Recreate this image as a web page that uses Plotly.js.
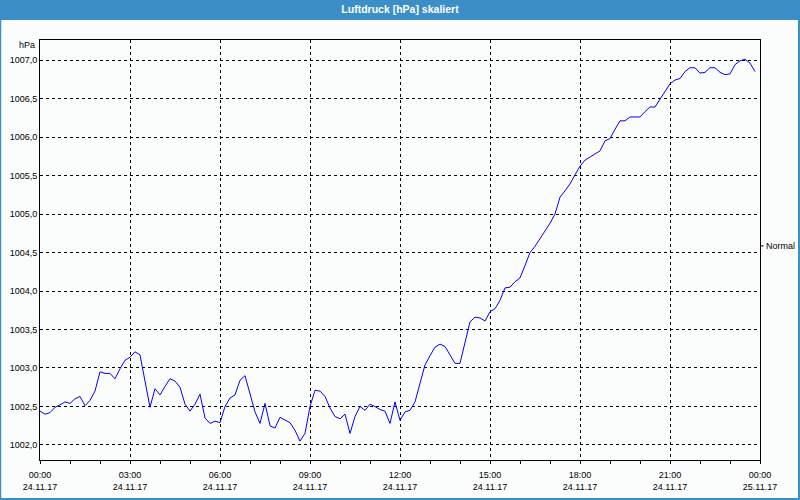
<!DOCTYPE html>
<html>
<head>
<meta charset="utf-8">
<script src="https://cdn.plot.ly/plotly-3.0.1.min.js"></script>
<style>
html,body{margin:0;padding:0;background:#fbfdfc;}
#chart{width:800px;height:500px;}
</style>
</head>
<body>
<div id="chart"></div>
<script>
// ---- data ----
const day = "2017-11-24";
const times = [
"00:00","00:10","00:20","00:30","00:40","00:50",
"01:00","01:10","01:20","01:30","01:40","01:50",
"02:00","02:10","02:20","02:30","02:40","02:50",
"03:00","03:10","03:20","03:30","03:40","03:50",
"04:00","04:10","04:20","04:30","04:40","04:50",
"05:00","05:10","05:20","05:30","05:40","05:50",
"06:00","06:10","06:20","06:30","06:40","06:50",
"07:00","07:10","07:20","07:30","07:40","07:50",
"08:00","08:10","08:20","08:30","08:40","08:50",
"09:00","09:10","09:20","09:30","09:40","09:50",
"10:00","10:10","10:20","10:30","10:40","10:50",
"11:00","11:10","11:20","11:30","11:40","11:50",
"12:00","12:10","12:20","12:30","12:40","12:50",
"13:00","13:10","13:20","13:30","13:40","13:50",
"14:00","14:10","14:20","14:30","14:40","14:50",
"15:00","15:10","15:20","15:30","15:40","15:50",
"16:00","16:10","16:20","16:30","16:40","16:50",
"17:00","17:10","17:20","17:30","17:40","17:50",
"18:00","18:10","18:20","18:30","18:40","18:50",
"19:00","19:10","19:20","19:30","19:40","19:50",
"20:00","20:10","20:20","20:30","20:40","20:50",
"21:00","21:10","21:20","21:30","21:40","21:50",
"22:00","22:10","22:20","22:30","22:40","22:50",
"23:00","23:10","23:20","23:30","23:40","23:50"
];
const pressure = [
1002.44,1002.40,1002.42,1002.49,1002.52,1002.56,
1002.54,1002.60,1002.63,1002.51,1002.58,1002.70,
1002.95,1002.93,1002.93,1002.86,1002.99,1003.10,
1003.14,1003.21,1003.17,1002.84,1002.49,1002.73,
1002.65,1002.76,1002.86,1002.83,1002.75,1002.53,
1002.44,1002.53,1002.66,1002.35,1002.28,1002.31,
1002.29,1002.50,1002.61,1002.65,1002.84,1002.90,
1002.67,1002.43,1002.28,1002.54,1002.25,1002.22,
1002.36,1002.33,1002.29,1002.19,1002.05,1002.15,
1002.50,1002.71,1002.70,1002.63,1002.48,1002.37,
1002.34,1002.40,1002.15,1002.37,1002.50,1002.45,
1002.53,1002.50,1002.46,1002.44,1002.28,1002.56,
1002.32,1002.43,1002.45,1002.56,1002.80,1003.04,
1003.16,1003.27,1003.31,1003.28,1003.17,1003.06,
1003.06,1003.33,1003.60,1003.66,1003.65,1003.61,
1003.73,1003.77,1003.88,1004.04,1004.05,1004.12,
1004.17,1004.33,1004.50,1004.58,1004.68,1004.78,
1004.88,1005.00,1005.22,1005.30,1005.39,1005.51,
1005.62,1005.70,1005.74,1005.77,1005.82,1005.95,
1005.98,1006.10,1006.21,1006.21,1006.26,1006.26,
1006.26,1006.33,1006.39,1006.39,1006.49,1006.59,
1006.69,1006.74,1006.76,1006.85,1006.90,1006.90,
1006.83,1006.84,1006.90,1006.90,1006.84,1006.81,
1006.82,1006.94,1006.99,1007.01,1006.96,1006.85
];
const normalLevel = 1004.585;
const chartTitle = "Luftdruck [hPa] skaliert";
const unitLabel = "hPa";
const normalLabel = "Normal";

// ---- chart ----
const x = times.map(t => day + " " + t);
const FONT = "Liberation Sans, Arial, sans-serif";
const BLUE = "#3c8fc6";
// paper-coordinate helpers (plot area: x 40..760, y 40..460)
const px = v => (v - 40) / 720;
const py = v => (460 - v) / 420;

const trace = {
  x: x, y: pressure, type: "scatter", mode: "lines",
  line: {color: "#0000ff", width: 1}, hoverinfo: "x+y"
};

const layout = {
  width: 800, height: 500,
  margin: {l: 40, r: 40, t: 40, b: 40},
  paper_bgcolor: "#fbfdfc", plot_bgcolor: "#fbfdfc",
  separators: ",.",
  showlegend: false,
  font: {family: FONT, size: 9, color: "#000"},
  title: {
    text: "<b>" + chartTitle + "</b>",
    font: {family: FONT, size: 10.5, color: "#ffffff"},
    x: 0.5, xref: "container", xanchor: "center",
    y: 1 - 9/500, yref: "container", yanchor: "middle"
  },
  xaxis: {
    type: "date",
    range: ["2017-11-24 00:00", "2017-11-25 00:00"],
    tick0: "2017-11-24 00:00", dtick: 3*3600000,
    tickformat: "%H:%M<br>%d.%m.%y",
    showgrid: true, gridcolor: "#000", gridwidth: 1, griddash: "3px,3px",
    showline: true, linecolor: "#000", linewidth: 1, mirror: true,
    ticks: "outside", ticklen: 3, tickcolor: "#000",
    ticklabelstandoff: 3,
    minor: {dtick: 3600000, ticks: "outside", ticklen: 3, tickcolor: "#000", showgrid: false},
    zeroline: false, fixedrange: true,
    tickfont: {family: FONT, size: 9, color: "#000"}
  },
  yaxis: {
    range: [1001.805, 1007.26],
    tick0: 1002, dtick: 0.5, tickformat: ".1f",
    showgrid: true, gridcolor: "#000", gridwidth: 1, griddash: "3px,3px",
    showline: true, linecolor: "#000", linewidth: 1, mirror: true,
    ticks: "", zeroline: false, fixedrange: true,
    tickfont: {family: FONT, size: 9, color: "#000"}
  },
  shapes: [
    // title bar
    {type: "rect", xref: "paper", yref: "paper", x0: px(0), x1: px(800), y0: py(20), y1: py(0),
     fillcolor: BLUE, line: {width: 0}, layer: "below"},
    // frame borders
    {type: "line", xref: "paper", yref: "paper", x0: px(0.5), x1: px(0.5), y0: py(0), y1: py(500),
     line: {color: BLUE, width: 1.5}},
    {type: "line", xref: "paper", yref: "paper", x0: px(799), x1: px(799), y0: py(0), y1: py(500),
     line: {color: BLUE, width: 2}},
    {type: "line", xref: "paper", yref: "paper", x0: px(0), x1: px(800), y0: py(499), y1: py(499),
     line: {color: BLUE, width: 2}},
    // "Normal" tick on right axis
    {type: "line", xref: "paper", yref: "y", x0: 1, x1: px(763.5), y0: normalLevel, y1: normalLevel,
     line: {color: "#000", width: 1}}
  ],
  annotations: [
    {text: unitLabel, xref: "paper", yref: "paper", x: 0, y: 1, xanchor: "right", yanchor: "middle",
     xshift: -3, yshift: -5, showarrow: false, font: {family: FONT, size: 9, color: "#000"}},
    {text: normalLabel, xref: "paper", yref: "y", x: 1, y: normalLevel, xanchor: "left", yanchor: "middle",
     xshift: 4, showarrow: false, font: {family: FONT, size: 9, color: "#000"}}
  ]
};

Plotly.newPlot("chart", [trace], layout, {displayModeBar: false, staticPlot: true});
</script>
</body>
</html>
